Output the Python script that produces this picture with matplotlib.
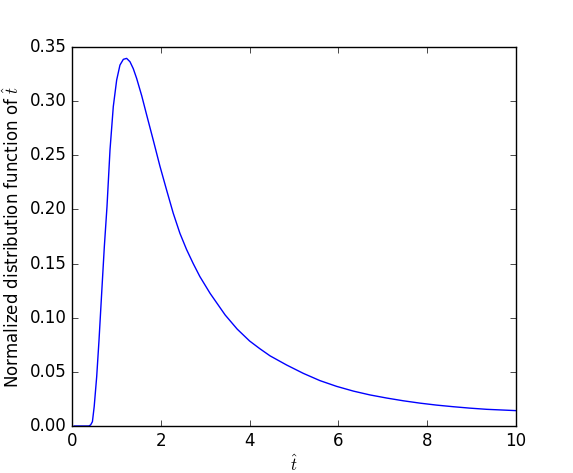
import matplotlib

matplotlib.use("Agg")
import matplotlib.pyplot as plt

# values
t_hat = [0.05, 0.38, 0.42, 0.46, 0.50, 0.556, 0.608, 0.668, 0.728, 0.788,
         0.856, 0.93, 1.006, 1.08, 1.156, 1.23, 1.306, 1.38, 1.456, 1.57,
         1.68, 1.83, 1.98, 2.13, 2.28, 2.43, 2.58, 2.73, 2.88, 3.11, 3.45,
         3.72, 4.0, 4.23, 4.46, 4.835, 5.21, 5.585, 5.96, 6.34, 6.71, 7.09,
         7.46, 7.84, 8.21, 8.59, 8.96, 9.34, 10.0]
density = [0.0, 0.0, 0.001, 0.004, 0.018, 0.0455, 0.079, 0.1225, 0.1655,
           0.2025, 0.255, 0.295, 0.3195, 0.3333, 0.3386, 0.3395, 0.3364,
           0.330, 0.321, 0.305, 0.2875, 0.264, 0.240, 0.218, 0.1965, 0.178,
           0.163, 0.150, 0.138, 0.1225, 0.1025, 0.0895, 0.0785, 0.0714,
           0.0648, 0.0563, 0.0486, 0.0419, 0.0366, 0.0322, 0.0287, 0.0258,
           0.0233, 0.0211, 0.0193, 0.0178, 0.0165, 0.0154, 0.0142]

x_ticks = [0, 2, 4, 6, 8, 10]
y_ticks = [0.00, 0.05, 0.10, 0.15, 0.20, 0.25, 0.30, 0.35]

plt.style.use("classic")

fig = plt.figure(figsize=(5.73, 4.73), dpi=100, facecolor="white")
ax = fig.add_axes([72 / 573, 47 / 473, 444 / 573, 379 / 473])

ax.plot(t_hat, density, color="#0000ff", lw=1.0)
ax.set_xlim(0, 10)
ax.set_ylim(0, 0.35)
ax.set_xticks(x_ticks)
ax.set_yticks(y_ticks)
ax.set_yticklabels([f"{v:.2f}" for v in y_ticks])
ax.set_xlabel(r"$\hat{t}$", fontsize=12, labelpad=3)
ax.set_ylabel(r"Normalized distribution function of $\hat{t}$", fontsize=12)

fig.savefig("out.png", dpi=100, facecolor="white")
